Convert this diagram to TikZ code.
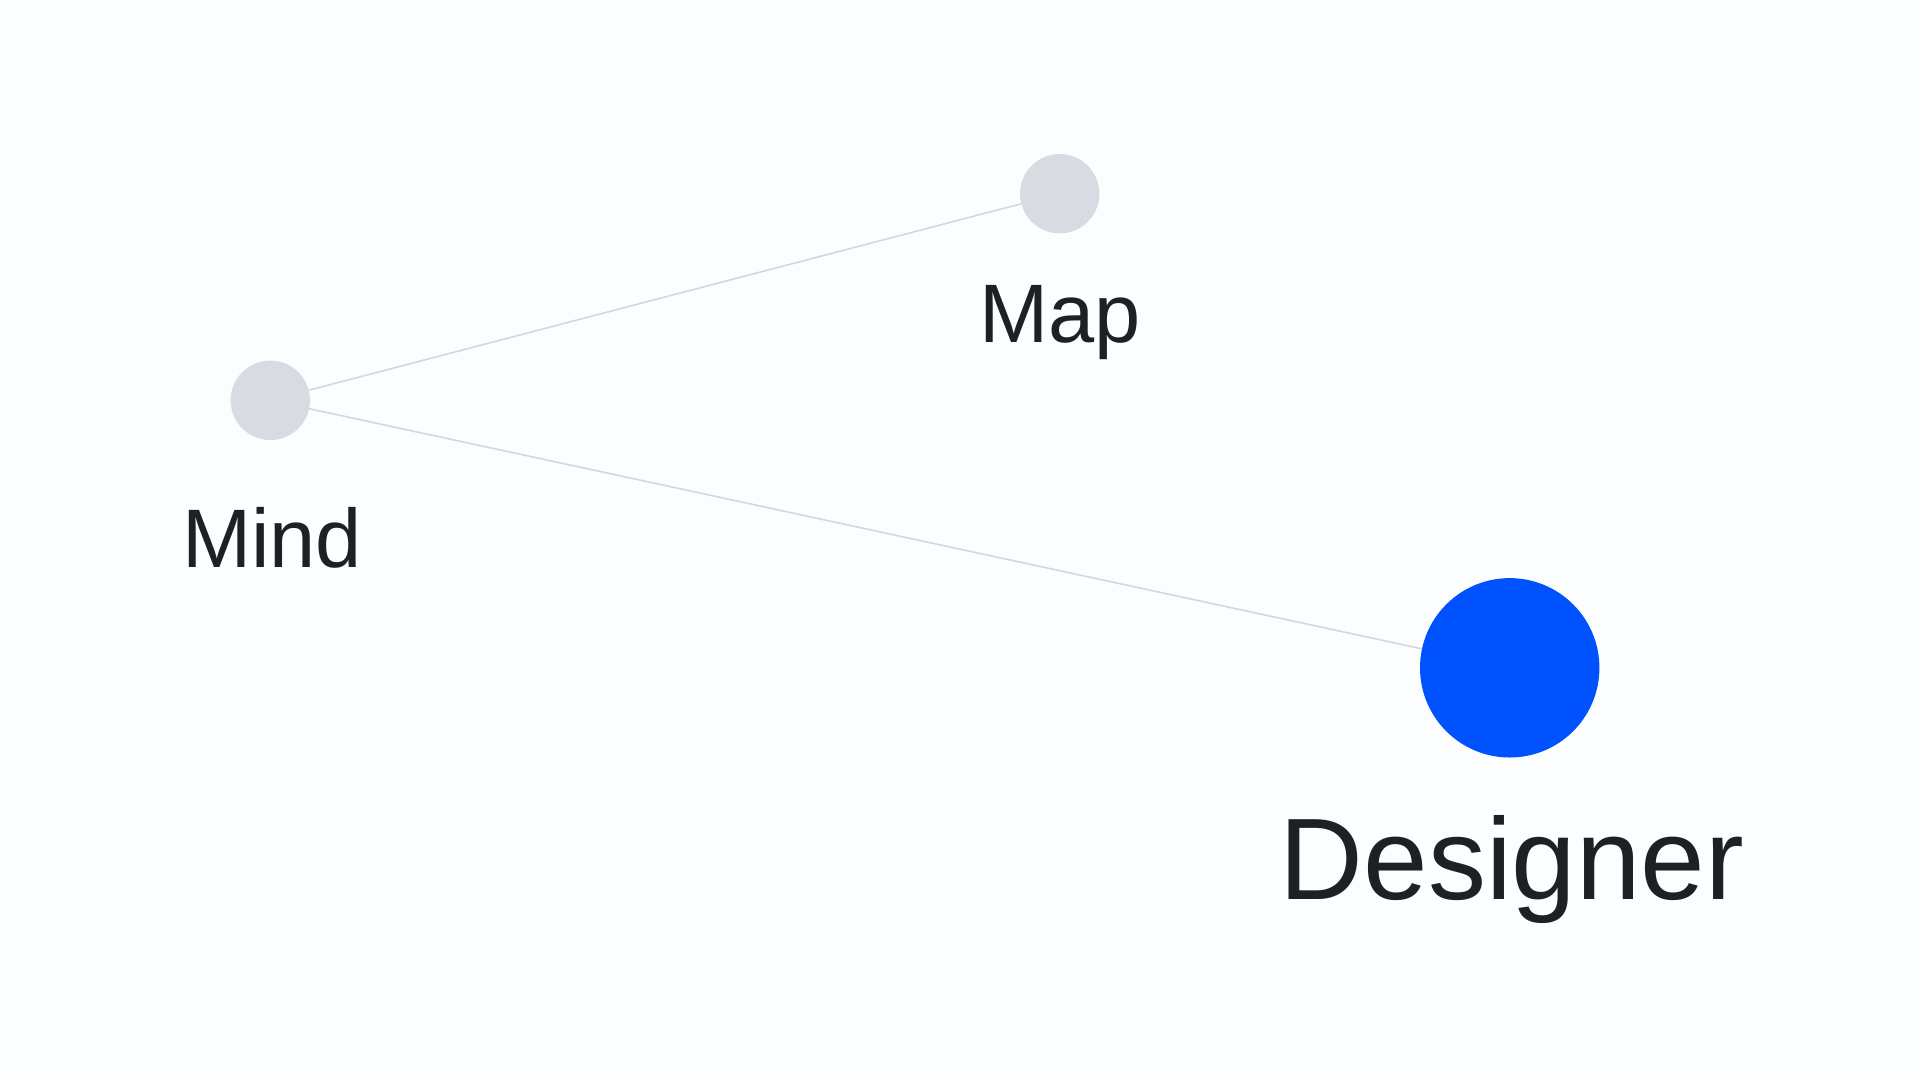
\documentclass[tikz,border=0pt]{standalone}
\usepackage{fontspec}
\setmainfont{Liberation Sans}
\definecolor{bgcol}{RGB}{252,253,255}
\definecolor{dotgray}{RGB}{217,219,227}
\definecolor{dotblue}{RGB}{0,82,255}
\definecolor{linkgray}{RGB}{213,215,222}
\definecolor{txt}{RGB}{31,32,38}
\tikzset{
  dot/.style={circle, inner sep=0pt, outer sep=0pt, draw=none, fill=dotgray, minimum size=79.4pt},
  bigdot/.style={dot, fill=dotblue, minimum size=179.4pt},
  lbl/.style={anchor=base, inner sep=0pt, text=txt, font=\fontsize{83}{90}\selectfont},
  biglbl/.style={lbl, font=\fontsize{116}{120}\selectfont},
  link/.style={draw=linkgray, line width=1.6pt}
}
\begin{document}
\begin{tikzpicture}[x=1pt,y=-1pt]
\fill[bgcol] (0,0) rectangle (1920,1080);
\useasboundingbox (0,0) rectangle (1920,1080);
\node[dot] (mind) at (270.3,400.3) {};
\node[dot] (map) at (1059.7,193.7) {};
\node[bigdot] (designer) at (1509.7,667.8) {};
\draw[link] (mind) -- (map);
\draw[link] (mind) -- (designer);
\node[lbl] (mindlbl) at (272,567.3) {Mind};
\node[lbl] (maplbl) at (1060,342.7) {Map};
\node[biglbl] (designerlbl) at (1512,899) {Designer};
\end{tikzpicture}
\end{document}
